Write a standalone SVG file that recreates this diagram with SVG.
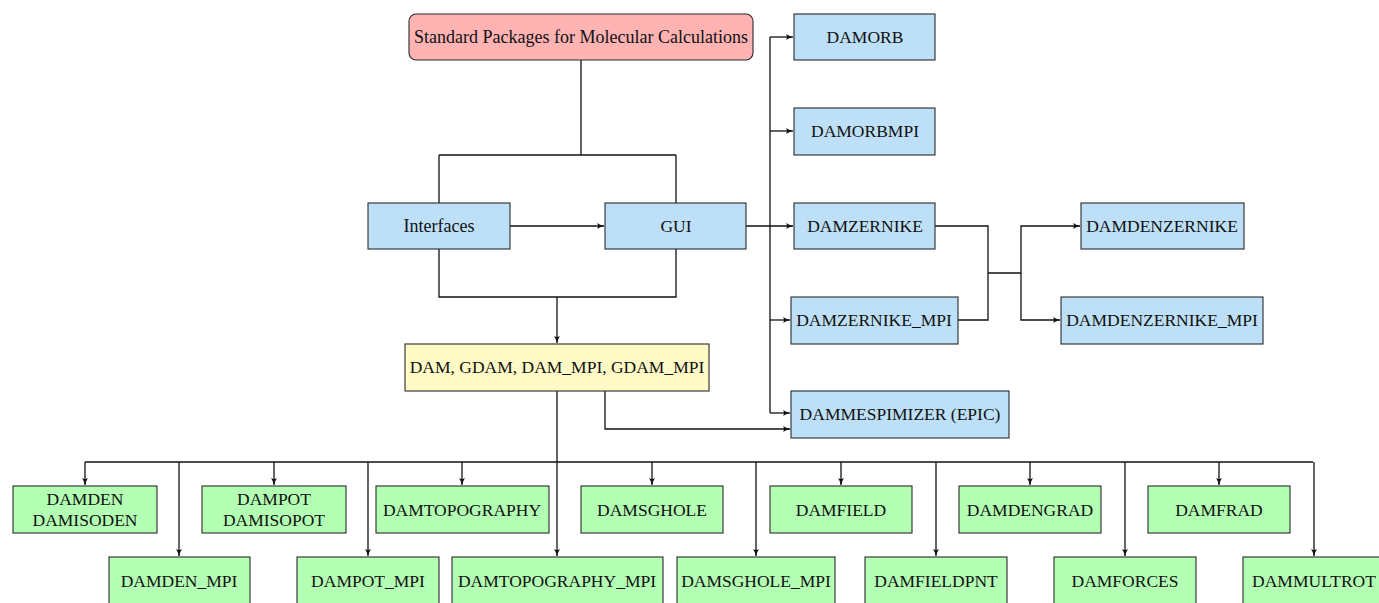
<svg xmlns="http://www.w3.org/2000/svg" width="1379" height="603" viewBox="0 0 1379 603">
<style>
.b{stroke:#2a2a2a;stroke-width:1.1}
.red{fill:#ffb3b3}
.blue{fill:#bde0f8}
.yel{fill:#fffac6}
.grn{fill:#b3ffb3}
text{font-family:"Liberation Serif","DejaVu Serif",serif;font-size:17.5px;fill:#111;text-anchor:middle}
text.m{font-size:18px}
.c path{fill:none;stroke:#111;stroke-width:1.3}
</style>
<defs>
<marker id="a" markerUnits="userSpaceOnUse" markerWidth="8" markerHeight="8" refX="7" refY="4" orient="auto">
<path d="M0,1 Q3,3 7,4 Q3,5 0,7 Q2,4 0,1 z" fill="#111"/>
</marker>
</defs>
<g class="c">
<path d="M581,60 V155 M439,155 H676 M439,155 V203 M676,155 V203"/>
<path d="M510,226 H604" marker-end="url(#a)"/>
<path d="M439,249 V297 H676 V249"/>
<path d="M557,297 V343" marker-end="url(#a)"/>
<path d="M746,226 H793" marker-end="url(#a)"/>
<path d="M770,37 V413"/>
<path d="M770,37 H793" marker-end="url(#a)"/>
<path d="M770,131 H793" marker-end="url(#a)"/>
<path d="M770,320 H790" marker-end="url(#a)"/>
<path d="M770,413 H790" marker-end="url(#a)"/>
<path d="M605,391 V429 H790" marker-end="url(#a)"/>
<path d="M935,226 H988 V320 H958 M988,273 H1021"/>
<path d="M1021,273 V226 H1080" marker-end="url(#a)"/>
<path d="M1021,273 V320 H1060" marker-end="url(#a)"/>
<path d="M557,391 V462 M85,462 H1313"/>
<path d="M85,462 V485" marker-end="url(#a)"/>
<path d="M274,462 V485" marker-end="url(#a)"/>
<path d="M462,462 V485" marker-end="url(#a)"/>
<path d="M652,462 V485" marker-end="url(#a)"/>
<path d="M841,462 V485" marker-end="url(#a)"/>
<path d="M1030,462 V485" marker-end="url(#a)"/>
<path d="M1219,462 V485" marker-end="url(#a)"/>
<path d="M179,462 V556" marker-end="url(#a)"/>
<path d="M368,462 V556" marker-end="url(#a)"/>
<path d="M557,462 V556" marker-end="url(#a)"/>
<path d="M756,462 V556" marker-end="url(#a)"/>
<path d="M936,462 V556" marker-end="url(#a)"/>
<path d="M1125,462 V556" marker-end="url(#a)"/>
<path d="M1314,462 V556" marker-end="url(#a)"/>
</g>
<g id="std"><rect class="b red" x="409" y="14" width="344" height="46" rx="7"/><text class="m" x="581" y="43">Standard Packages for Molecular Calculations</text></g>
<g id="interfaces"><rect class="b blue" x="368" y="203" width="142" height="46"/><text class="m" x="439" y="232">Interfaces</text></g>
<g id="gui"><rect class="b blue" x="605" y="203" width="141" height="46"/><text x="676" y="232">GUI</text></g>
<g id="dam"><rect class="b yel" x="405" y="344" width="304" height="47"/><text x="557" y="373">DAM, GDAM, DAM_MPI, GDAM_MPI</text></g>
<g id="damorb"><rect class="b blue" x="794" y="14" width="141" height="46"/><text x="865" y="43">DAMORB</text></g>
<g id="damorbmpi"><rect class="b blue" x="794" y="108" width="141" height="47"/><text x="865" y="137">DAMORBMPI</text></g>
<g id="damzernike"><rect class="b blue" x="794" y="203" width="141" height="46"/><text x="865" y="232">DAMZERNIKE</text></g>
<g id="damzernikempi"><rect class="b blue" x="791" y="297" width="167" height="47"/><text x="874" y="326">DAMZERNIKE_MPI</text></g>
<g id="dammespimizer"><rect class="b blue" x="791" y="391" width="218" height="47"/><text x="900" y="420">DAMMESPIMIZER (EPIC)</text></g>
<g id="damdenzernike"><rect class="b blue" x="1081" y="203" width="163" height="46"/><text x="1162" y="232">DAMDENZERNIKE</text></g>
<g id="damdenzernikempi"><rect class="b blue" x="1061" y="297" width="202" height="47"/><text x="1162" y="326">DAMDENZERNIKE_MPI</text></g>
<g id="damden"><rect class="b grn" x="13" y="486" width="144" height="47"/><text x="85" y="505">DAMDEN</text><text x="85" y="526">DAMISODEN</text></g>
<g id="dampot"><rect class="b grn" x="202" y="486" width="144" height="47"/><text x="274" y="505">DAMPOT</text><text x="274" y="526">DAMISOPOT</text></g>
<g id="damtopography"><rect class="b grn" x="376" y="486" width="173" height="47"/><text x="462" y="516">DAMTOPOGRAPHY</text></g>
<g id="damsghole"><rect class="b grn" x="581" y="486" width="142" height="47"/><text x="652" y="516">DAMSGHOLE</text></g>
<g id="damfield"><rect class="b grn" x="770" y="486" width="142" height="47"/><text x="841" y="516">DAMFIELD</text></g>
<g id="damdengrad"><rect class="b grn" x="959" y="486" width="142" height="47"/><text x="1030" y="516">DAMDENGRAD</text></g>
<g id="damfrad"><rect class="b grn" x="1148" y="486" width="142" height="47"/><text x="1219" y="516">DAMFRAD</text></g>
<g id="damdenmpi"><rect class="b grn" x="109" y="557" width="141" height="47"/><text x="179" y="587">DAMDEN_MPI</text></g>
<g id="dampotmpi"><rect class="b grn" x="297" y="557" width="142" height="47"/><text x="368" y="587">DAMPOT_MPI</text></g>
<g id="damtopographympi"><rect class="b grn" x="452" y="557" width="211" height="47"/><text x="557" y="587">DAMTOPOGRAPHY_MPI</text></g>
<g id="damsgholempi"><rect class="b grn" x="677" y="557" width="158" height="47"/><text x="756" y="587">DAMSGHOLE_MPI</text></g>
<g id="damfieldpnt"><rect class="b grn" x="865" y="557" width="142" height="47"/><text x="936" y="587">DAMFIELDPNT</text></g>
<g id="damforces"><rect class="b grn" x="1054" y="557" width="142" height="47"/><text x="1125" y="587">DAMFORCES</text></g>
<g id="dammultrot"><rect class="b grn" x="1243" y="557" width="142" height="47"/><text x="1314" y="587">DAMMULTROT</text></g>
</svg>
